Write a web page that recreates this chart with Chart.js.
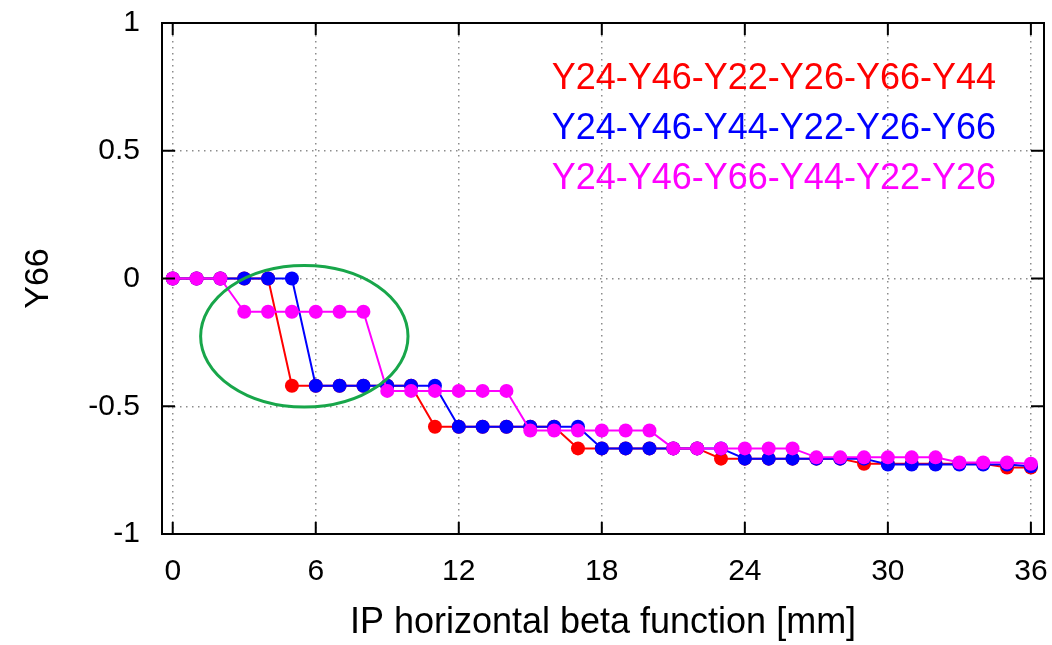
<!DOCTYPE html>
<html>
<head>
<meta charset="utf-8">
<script src="https://cdn.jsdelivr.net/npm/chart.js@4/dist/chart.umd.min.js"></script>
<style>
  html, body { margin: 0; padding: 0; background: #fff; }
  #wrap { width: 1052px; height: 645px; }
</style>
</head>
<body>
<div id="wrap"><canvas id="chart" width="1052" height="645"></canvas></div>
<script>
// beta values along x (mm)
const betaX = [0, 1, 2, 3, 4, 5, 6, 7, 8, 9, 10, 11, 12, 13, 14, 15, 16, 17, 18,
               19, 20, 21, 22, 23, 24, 25, 26, 27, 28, 29, 30, 31, 32, 33, 34, 35, 36];

// Y66 for the three knob orderings
const orderA = [0, 0, 0, 0, 0, -0.42, -0.42, -0.42, -0.42, -0.42, -0.42,
                -0.58, -0.58, -0.58, -0.58, -0.58, -0.58,
                -0.665, -0.665, -0.665, -0.665, -0.665, -0.665,
                -0.705, -0.705, -0.705, -0.705, -0.705, -0.705,
                -0.725, -0.725, -0.725, -0.725, -0.725, -0.725, -0.74, -0.74];
const orderB = [0, 0, 0, 0, 0, 0, -0.42, -0.42, -0.42, -0.42, -0.42, -0.42,
                -0.58, -0.58, -0.58, -0.58, -0.58, -0.58,
                -0.665, -0.665, -0.665, -0.665, -0.665, -0.665,
                -0.705, -0.705, -0.705, -0.705, -0.705, -0.705,
                -0.728, -0.728, -0.728, -0.728, -0.728, -0.728, -0.735];
const orderC = [0, 0, 0, -0.13, -0.13, -0.13, -0.13, -0.13, -0.13,
                -0.44, -0.44, -0.44, -0.44, -0.44, -0.44,
                -0.595, -0.595, -0.595, -0.595, -0.595, -0.595,
                -0.665, -0.665, -0.665, -0.665, -0.665, -0.665,
                -0.70, -0.70, -0.70, -0.70, -0.70, -0.70, -0.72, -0.72, -0.72, -0.725];

const labels = ['Y24-Y46-Y22-Y26-Y66-Y44', 'Y24-Y46-Y44-Y22-Y26-Y66', 'Y24-Y46-Y66-Y44-Y22-Y26'];
const xTicks = [0, 6, 12, 18, 24, 30, 36];
const yTicks = [-1, -0.5, 0, 0.5, 1];

// highlighted region around the first step
const ring = { cx: 5.52, cy: -0.226, rx: 4.35, ry: 0.277 };

const FONT = "'Liberation Sans', Arial, Helvetica, sans-serif";

function toPoints(ys) {
    return betaX.map((x, i) => ({ x: x, y: ys[i] }));
}

function series(label, ys, color, order) {
    return {
        label: label,
        data: toPoints(ys),
        borderColor: color,
        backgroundColor: color,
        borderWidth: 2,
        pointRadius: 7,
        pointBorderWidth: 0,
        pointBackgroundColor: color,
        tension: 0,
        order: order
    };
}

// gnuplot style frame, inward ticks, text key and the green ring
const framePlugin = {
    id: 'frame',
    afterDatasetsDraw(chart) {
        const { ctx, chartArea: a, scales: { x, y } } = chart;
        ctx.save();
        ctx.strokeStyle = '#000';
        ctx.lineWidth = 2;
        ctx.strokeRect(a.left, a.top, a.right - a.left, a.bottom - a.top);
        ctx.beginPath();
        for (const t of xTicks) {
            const px = x.getPixelForValue(t);
            ctx.moveTo(px, a.bottom); ctx.lineTo(px, a.bottom - 12);
            ctx.moveTo(px, a.top); ctx.lineTo(px, a.top + 12);
        }
        for (const t of yTicks) {
            const py = y.getPixelForValue(t);
            ctx.moveTo(a.left, py); ctx.lineTo(a.left + 13, py);
            ctx.moveTo(a.right, py); ctx.lineTo(a.right - 13, py);
        }
        ctx.stroke();

        // ring
        const cx = x.getPixelForValue(ring.cx);
        const cy = y.getPixelForValue(ring.cy);
        const rx = Math.abs(x.getPixelForValue(ring.cx + ring.rx) - cx);
        const ry = Math.abs(y.getPixelForValue(ring.cy + ring.ry) - cy);
        ctx.beginPath();
        ctx.ellipse(cx, cy, rx, ry, 0, 0, Math.PI * 2);
        ctx.strokeStyle = '#18a64a';
        ctx.lineWidth = 3;
        ctx.stroke();

        // key
        ctx.font = '36px ' + FONT;
        ctx.textAlign = 'right';
        ctx.textBaseline = 'alphabetic';
        chart.data.datasets.forEach((ds, i) => {
            ctx.fillStyle = ds.borderColor;
            ctx.fillText(ds.label, a.right - 48, a.top + 66 + i * 50);
        });
        ctx.restore();
    }
};

const ctx = document.getElementById('chart').getContext('2d');
new Chart(ctx, {
    type: 'line',
    data: {
        datasets: [
            series(labels[0], orderA, '#ff0000', 3),
            series(labels[1], orderB, '#0000ff', 2),
            series(labels[2], orderC, '#ff00ff', 1)
        ]
    },
    options: {
        responsive: false,
        animation: false,
        layout: { padding: { top: 23, right: 8, left: 0, bottom: 0 } },
        plugins: {
            legend: { display: false },
            tooltip: { enabled: false }
        },
        scales: {
            x: {
                type: 'linear',
                min: -0.45,
                max: 36.55,
                afterBuildTicks: (s) => { s.ticks = xTicks.map(v => ({ value: v })); },
                afterFit: (s) => { s.height = 111; s.paddingLeft = 0; s.paddingRight = 0; },
                ticks: {
                    color: '#000',
                    font: { family: FONT, size: 30 },
                    padding: 20,
                    maxRotation: 0
                },
                grid: { color: '#8c8c8c', lineWidth: 1.5, drawTicks: false },
                border: { display: false, dash: [1.5, 4.5] },
                title: {
                    display: true,
                    text: 'IP horizontal beta function [mm]',
                    color: '#000',
                    font: { family: FONT, size: 36 },
                    padding: { top: 0, bottom: 0 }
                }
            },
            y: {
                type: 'linear',
                min: -1,
                max: 1,
                afterBuildTicks: (s) => { s.ticks = yTicks.map(v => ({ value: v })); },
                afterFit: (s) => { s.width = 162; s.paddingTop = 0; s.paddingBottom = 0; },
                ticks: {
                    color: '#000',
                    font: { family: FONT, size: 30 },
                    padding: 22,
                    callback: (v) => String(v)
                },
                grid: { color: '#8c8c8c', lineWidth: 1.5, drawTicks: false },
                border: { display: false, dash: [1.5, 4.5] },
                title: {
                    display: true,
                    text: 'Y66',
                    color: '#000',
                    font: { family: FONT, size: 34 },
                    padding: { top: 18, bottom: 0 }
                }
            }
        }
    },
    plugins: [framePlugin]
});
</script>
</body>
</html>
